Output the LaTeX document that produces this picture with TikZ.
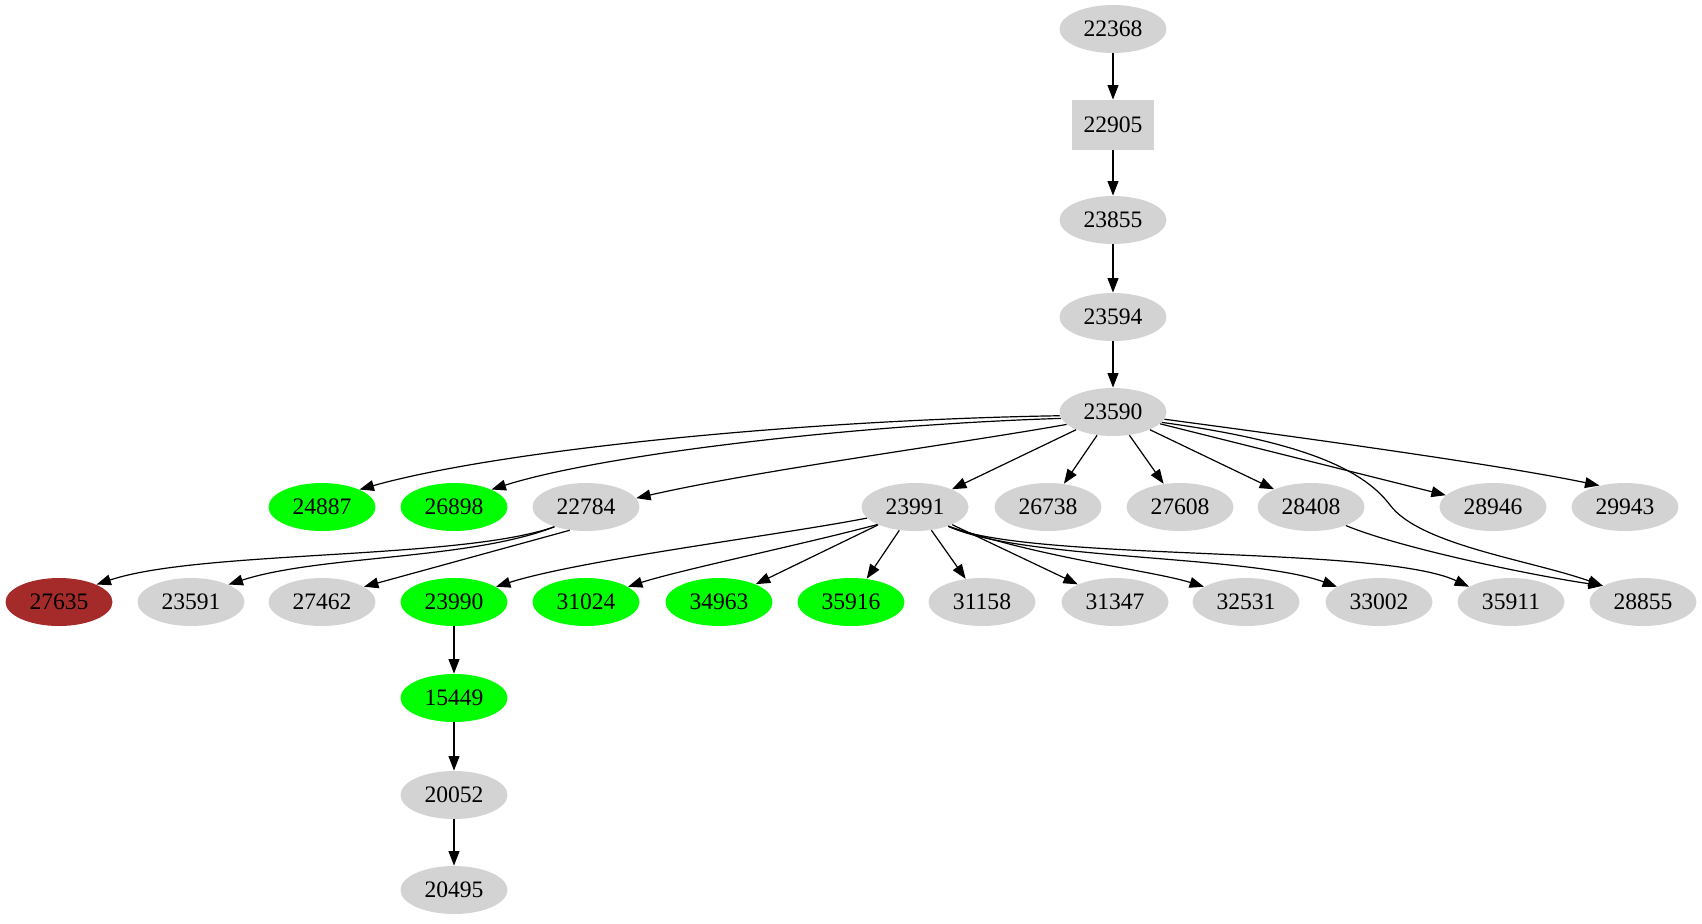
\documentclass[tikz,border=0pt]{standalone}
\usepackage{fontspec}
\setmainfont{Liberation Serif}
\usetikzlibrary{shapes.geometric,arrows.meta}
\definecolor{nodegray}{HTML}{D3D3D3}
\definecolor{nodegreen}{HTML}{00FF00}
\definecolor{nodebrown}{HTML}{A52A2A}

\begin{document}
\begin{tikzpicture}[x=0.5pt,y=-0.5pt,
  every node/.style={font=\fontsize{11.8}{14}\selectfont},
  vert/.style={ellipse,fill=nodegray,minimum width=53.5pt,minimum height=24pt,inner sep=0pt},
  good/.style={vert,fill=nodegreen},
  bad/.style={vert,fill=nodebrown},
  boxed/.style={rectangle,fill=nodegray,minimum width=41pt,minimum height=25pt,inner sep=0pt},
  edge/.style={line width=0.6pt,-{Triangle[length=7.2pt,width=5.4pt]}}]
  \useasboundingbox (0,0) rectangle (1702,923);

  % top chain
  \node[vert]  (n22368) at (1113,29)  {22368};
  \node[boxed] (n22905) at (1113,125) {22905};
  \node[vert]  (n23855) at (1113,220) {23855};
  \node[vert]  (n23594) at (1113,317) {23594};
  \node[vert]  (n23590) at (1113,412) {23590};

  % rank below 23590
  \foreach \n/\x/\s in {24887/322/good, 26898/454/good, 22784/586/vert,
      23991/915/vert, 26738/1048/vert, 27608/1180/vert, 28408/1311/vert,
      28946/1493/vert, 29943/1625/vert}
    \node[\s] (n\n) at (\x,507) {\n};

  % rank below that
  \foreach \n/\x/\s in {27635/59/bad, 23591/191/vert, 27462/322/vert,
      23990/454/good, 31024/586/good, 34963/719/good, 35916/851/good,
      31158/982/vert, 31347/1115/vert, 32531/1246/vert, 33002/1379/vert,
      35911/1511/vert, 28855/1643/vert}
    \node[\s] (n\n) at (\x,602) {\n};

  \node[good] (n15449) at (454,698) {15449};
  \node[vert] (n20052) at (454,795) {20052};
  \node[vert] (n20495) at (454,890) {20495};

  % straight edges
  \foreach \a/\b in {22368/22905, 22905/23855, 23855/23594, 23594/23590,
      23590/23991, 23590/26738, 23590/27608, 23590/28408, 23590/28946,
      23991/34963, 23991/35916, 23991/31158, 23991/31347,
      23990/15449, 15449/20052, 20052/20495}
    \draw[edge] (n\a) -- (n\b);

  % curved edges out of 23590
  \draw[edge] (n23590.184) .. controls (800,420) and (500,450) .. (n24887.25);
  \draw[edge] (n23590.187) .. controls (850,425) and (600,455) .. (n26898.25);
  \draw[edge] (n23590.195) .. controls (950,445) and (760,470) .. (n22784.10);
  \draw[edge] (n23590.-8) .. controls (1320,440) and (1500,465) .. (n29943.140);
  \draw[edge] (n23590.-12) .. controls (1290,440) and (1360,465) .. (1390,505)
    .. controls (1420,545) and (1530,560) .. (n28855.158);

  % out of 22784
  \draw[edge] (n22784.212) .. controls (460,560) and (200,550) .. (n27635.25);
  \draw[edge] (n22784.212) .. controls (470,560) and (320,555) .. (n23591.25);
  \draw[edge] (n22784.235) -- (n27462.20);

  % out of 23991
  \draw[edge] (n23991.193) .. controls (780,535) and (580,560) .. (n23990.20);
  \draw[edge] (n23991.205) .. controls (800,545) and (680,570) .. (n31024.20);
  \draw[edge] (n23991.330) .. controls (1050,560) and (1150,570) .. (n32531.160);
  \draw[edge] (n23991.330) .. controls (1020,560) and (1250,555) .. (n33002.160);
  \draw[edge] (n23991.330) .. controls (1030,562) and (1380,545) .. (n35911.160);

  \draw[edge] (n28408.-28) .. controls (1400,548) and (1530,575) .. (n28855.158);
\end{tikzpicture}
\end{document}
